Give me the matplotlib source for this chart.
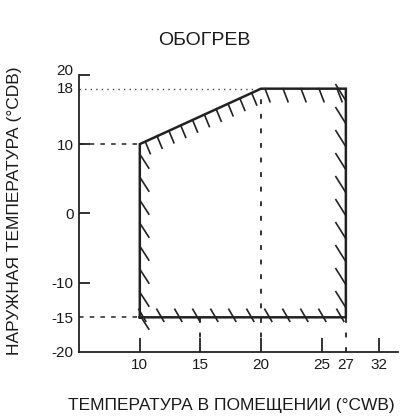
import numpy as np
import matplotlib
matplotlib.use("Agg")
import matplotlib.pyplot as plt
import matplotlib.transforms as mtransforms

plt.rcParams['font.family'] = ['Liberation Sans', 'DejaVu Sans']

# operating range (heating), indoor WB vs outdoor DB
zone_x = [10, 10, 20, 27, 27, 10]
zone_y = [-15, 10, 18, 18, -15, -15]

x_ticks = [10, 15, 20, 25, 27, 29.7]
x_labels = ['10', '15', '20', '25', '27', '32']
y_ticks = [-20, -15, -10, 0, 10, 18, 20]
y_labels = ['-20', '-15', '-10', '0', '10', '18', '20']

title = 'ОБОГРЕВ'
xlabel = 'ТЕМПЕРАТУРА В ПОМЕЩЕНИИ (°CWB)'
ylabel = 'НАРУЖНАЯ ТЕМПЕРАТУРА (°CDB)'

fig = plt.figure(figsize=(4.02, 4.18), dpi=100)
ax = fig.add_axes([0.197, 0.158, 0.793, 0.663])
ax.set_xlim(5, 31.3)
ax.set_ylim(-20, 20)

for s in ['top', 'right']:
    ax.spines[s].set_visible(False)
for s in ['left', 'bottom']:
    ax.spines[s].set_linewidth(1.3)
    ax.spines[s].set_color('#222222')

ax.set_xticks(x_ticks)
ax.set_xticklabels(x_labels)
ax.set_yticks(y_ticks)
ax.set_yticklabels(y_labels)
ax.tick_params(direction='in', length=10, width=1.3, color='#222222',
               labelsize=11, pad=4, labelcolor='#1a1a1a')
ax.tick_params(axis='y', length=8)
# no solid tick where a guide line is drawn instead
for t in ax.xaxis.get_major_ticks():
    if t.get_loc() == 27:
        t.tick1line.set_visible(False)
for t in ax.yaxis.get_major_ticks():
    if t.get_loc() in (-15, 18, -20):
        t.tick1line.set_visible(False)
# 18 and 20 sit close, push 20 up so they don't collide
for lab, t in zip(ax.get_yticklabels(), y_ticks):
    if t == 20:
        lab.set_transform(lab.get_transform() + mtransforms.ScaledTranslation(0, 4 / 72, fig.dpi_scale_trans))
    if t == 18:
        lab.set_transform(lab.get_transform() + mtransforms.ScaledTranslation(0, 1 / 72, fig.dpi_scale_trans))

# guide lines
ax.plot([5, 10], [10, 10], color='#222222', lw=1.1, dashes=(3, 4))
ax.plot([5, 10], [-15, -15], color='#222222', lw=1.1, dashes=(3, 4))
ax.plot([5, 20], [18, 18], color='#444444', lw=1.0, dashes=(1, 3))
ax.plot([20, 20], [-20, 18], color='#333333', lw=1.4, dashes=(2.5, 5))
ax.plot([15, 15], [-20, -15], color='#333333', lw=1.4, dashes=(2.5, 5))
ax.plot([27, 27], [-20, -15], color='#333333', lw=1.4, dashes=(2.5, 5))

# zone outline
ax.plot(zone_x, zone_y, color='#222222', lw=1.8, solid_joinstyle='miter')

# hatch marks along the edges, sizes in pixels
fig.canvas.draw()
to_px = ax.transData.transform
to_data = ax.transData.inverted().transform
hatch = [
    # edge start, end, spacing, first offset, start offset px, end offset px
    ((10, 10), (10, -15), 23, 10, (0, 0), (9, -14)),
    ((10, 10), (20, 18), 13, 6, (0, 0), (5, -12)),
    ((20, 18), (27, 18), 18, 4, (0, 0), (5, -13)),
    ((27, 18), (27, -15), 23, 12, (-10, 16), (0, 0)),
    ((10, -15), (27, -15), 18, 3, (-4, 8), (3, -4)),
]
for a, b, step, first, o1, o2 in hatch:
    pa, pb = to_px([a, b])
    length = np.hypot(*(pb - pa))
    u = (pb - pa) / length
    d = first
    while d < length - 2:
        p = pa + u * d
        seg = to_data([p + np.array(o1), p + np.array(o2)])
        ax.plot(seg[:, 0], seg[:, 1], color='#222222', lw=1.2, clip_on=False)
        d += step

fig.text(0.508, 0.903, title, ha='center', va='center', fontsize=14, color='#1a1a1a')
fig.text(0.575, 0.03, xlabel, ha='center', va='center', fontsize=12.5, color='#1a1a1a')
fig.text(0.037, 0.495, ylabel, ha='center', va='center', rotation=90,
         fontsize=12.5, color='#1a1a1a')

fig.savefig('out.png', dpi=100)
